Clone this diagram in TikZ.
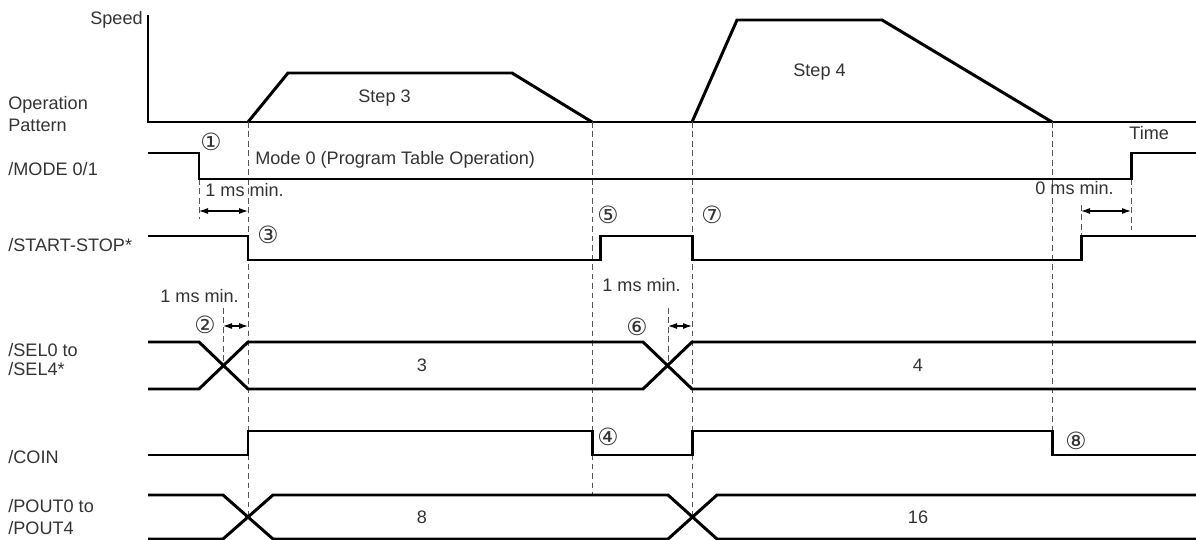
\documentclass[tikz,border=0pt]{standalone}
\usepackage{fontspec}
\setmainfont{Liberation Sans}
\newfontfamily\circfont{DejaVu Sans}
\usepackage{tikz}
\usetikzlibrary{arrows.meta}
\definecolor{colorTexto}{HTML}{333333}
\definecolor{colorGuia}{HTML}{555555}

\begin{document}
\begin{tikzpicture}[
        x=0.02cm, y=-0.02cm,
        sig/.style={line width=1.7pt, line join=miter},
        ax/.style={line width=0.7pt},
        guia/.style={colorGuia, line width=0.5pt, dash pattern=on 3.2pt off 2.2pt},
        cota/.style={{Latex[length=1.8mm,width=1.2mm]}-{Latex[length=1.8mm,width=1.2mm]}, line width=0.6pt},
        lbl/.style={text=colorTexto, inner sep=0pt, font=\fontsize{10.3}{12}\selectfont},
        num/.style={text=colorTexto, inner sep=0pt, font=\circfont\fontsize{13.5}{14}\selectfont}
    ]
        \useasboundingbox (0,0) rectangle (1196,540);
        % speed axis and pattern
        \draw[ax] (148,15) -- (148,122) -- (1196,122);
        \draw[sig] (248,122) -- (288,73) -- (512,73) -- (592,122);
        \draw[sig] (692,122) -- (737,20) -- (882,20) -- (1052,122);
        % guide lines
        \draw[guia] (248,122) -- (248,517);
        \draw[guia] (592,122) -- (592,495);
        \draw[guia] (692,122) -- (692,517);
        \draw[guia] (1052,122) -- (1052,431);
        \draw[guia] (199,179) -- (199,219);
        \draw[guia] (1131,179) -- (1131,230);
        \draw[guia] (1081,205) -- (1081,236);
        \draw[guia] (223,308) -- (223,365);
        \draw[guia] (668,308) -- (668,365);
        \draw[cota] (199,211) -- (248,211);
        \draw[cota] (1081,211) -- (1131,211);
        \draw[cota] (223,326) -- (248,326);
        \draw[cota] (668,326) -- (692,326);
        % signals
        \draw[sig] (148,153) -| (199,179) -| (1131,153) -- (1196,153);
        \draw[sig] (148,236) -| (248,260) -| (600,236) -| (692,260) -| (1081,236) -- (1196,236);
        \draw[sig] (148,342) -- (199,342) -- (248,389) -- (643,389) -- (692,342) -- (1196,342);
        \draw[sig] (148,389) -- (199,389) -- (248,342) -- (643,342) -- (692,389) -- (1196,389);
        \draw[sig] (148,455) -| (248,431) -| (592,455) -| (692,431) -| (1052,455) -- (1196,455);
        \draw[sig] (148,495) -- (223,495) -- (273,539) -- (668,539) -- (717,495) -- (1196,495);
        \draw[sig] (148,539) -- (223,539) -- (273,495) -- (668,495) -- (717,539) -- (1196,539);
        % texts
        \node[lbl, anchor=base east] (speed) at (143,25) {Speed};
        \node[lbl, anchor=base west] (opA) at (8,110) {Operation};
        \node[lbl, anchor=base west] (opB) at (8,132) {Pattern};
        \node[lbl, anchor=base west] (mode) at (8,176) {/MODE 0/1};
        \node[lbl, anchor=base west] (start) at (8,252) {/START-STOP*};
        \node[lbl, anchor=base west] (selA) at (8,357) {/SEL0 to};
        \node[lbl, anchor=base west] (selB) at (8,376) {/SEL4*};
        \node[lbl, anchor=base west] (coin) at (8,463) {/COIN};
        \node[lbl, anchor=base west] (poutA) at (8,512) {/POUT0 to};
        \node[lbl, anchor=base west] (poutB) at (8,534) {/POUT4};
        \node[lbl, anchor=base west] (paso3) at (358,103) {Step 3};
        \node[lbl, anchor=base west] (paso4) at (793,77) {Step 4};
        \node[lbl, anchor=base west] (tiempo) at (1129,140) {Time};
        \node[lbl, anchor=base west] (modo) at (255,165) {Mode 0 (Program Table Operation)};
        \node[lbl, anchor=base west] (minA) at (205,197) {1 ms min.};
        \node[lbl, anchor=base west] (minB) at (1035,195) {0 ms min.};
        \node[lbl, anchor=base west] (minC) at (160,303) {1 ms min.};
        \node[lbl, anchor=base west] (minD) at (602,292) {1 ms min.};
        \node[lbl] (sel3) at (422,365) {3};
        \node[lbl] (sel4) at (918,365) {4};
        \node[lbl] (pout8) at (422,517) {8};
        \node[lbl] (pout16) at (918,517) {16};
        \node[num] (n1) at (211,142) {①};
        \node[num] (n2) at (205,325) {②};
        \node[num] (n3) at (268,235) {③};
        \node[num] (n4) at (608,437) {④};
        \node[num] (n5) at (608,215) {⑤};
        \node[num] (n6) at (637,327) {⑥};
        \node[num] (n7) at (712,215) {⑦};
        \node[num] (n8) at (1076,441) {⑧};
\end{tikzpicture}
\end{document}
